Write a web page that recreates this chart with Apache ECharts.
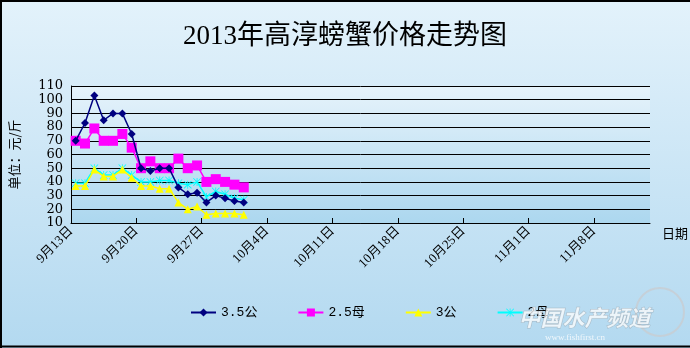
<!DOCTYPE html>
<html>
<head>
<meta charset="utf-8">
<script src="https://cdn.jsdelivr.net/npm/echarts@6/dist/echarts.min.js"></script>
<style>html,body{margin:0;padding:0;}#c{width:690px;height:348px;}</style>
</head>
<body>
<div id="c"></div>
<script>
// ---- data ----
const dates = ['9月13日','9月14日','9月15日','9月16日','9月17日','9月18日','9月19日','9月20日','9月21日','9月22日','9月23日','9月24日','9月25日','9月26日','9月27日','9月28日','9月29日','9月30日','10月1日'];
const seriesNames = ['3.5公','2.5母','3公','2母'];
const male35 = [70, 83, 103, 85, 90, 90, 75, 50, 48, 50, 50, 36, 31, 32, 25, 30, 28, 26, 25];
const female25 = [70, 68, 79, 70, 70, 75, 65, 50, 55, 50, 50, 57, 50, 52, 40, 42, 40, 38, 36];
const male3 = [37, 37, 49, 44, 44, 49, 43, 37, 37, 35, 35, 25, 20, 22, 16, 17, 17, 17, 16];
const female2 = [39, 39, 50, 45, 45, 50, 45, 40, 40, 41, 41, 39, 38, 40, 29, 33, 31, 28, 27];
const tickLabels = ['9月13日','9月20日','9月27日','10月4日','10月11日','10月18日','10月25日','11月1日','11月8日'];
const yTicks = [10,20,30,40,50,60,70,80,90,100,110];
const axisDays = 62; // 9/13 .. 11/14

const chart = echarts.init(document.getElementById('c'), null, {renderer:'canvas'});
const toPts = arr => arr.map((v,i)=>[i+0.5, v]);
const asterisk = 'path://M4.5,0 L5.5,0 L5.5,10 L4.5,10 Z M0.7,0 L10,9.3 L9.3,10 L0,0.7 Z M9.3,0 L10,0.7 L0.7,10 L0,9.3 Z';

const colors = ['#000080','#FF00FF','#FFFF00','#00FFFF'];
const symbols = ['diamond','rect','triangle',asterisk];
const sizes = [8,10,8,8];
const data = [male35, female25, male3, female2];

chart.setOption({
  animation:false,
  backgroundColor: new echarts.graphic.LinearGradient(0,0,0,1,[{offset:0,color:'#e3f2fb'},{offset:1,color:'#b3d9f0'}]),
  title:{
    text:'2013年高淳螃蟹价格走势图', left:'center', top:18,
    textStyle:{fontFamily:'Liberation Serif, Noto Sans CJK SC', fontSize:27, fontWeight:'normal', color:'#000'}
  },
  grid:{left:70, right:40, top:86, bottom:125, show:true, borderWidth:0,
    backgroundColor: new echarts.graphic.LinearGradient(0,0,0,1,[{offset:0,color:'#e6f3fb'},{offset:1,color:'#acd7ef'}])},
  legend:{
    bottom:24, left:185, itemGap:40, itemWidth:25, itemHeight:10,
    textStyle:{fontFamily:'Liberation Mono, Noto Sans CJK SC', fontSize:13, color:'#000'},
    data: seriesNames
  },
  xAxis:{
    type:'value', min:0, max:axisDays, interval:7,
    name:'日期', nameLocation:'end', nameGap:12,
    nameTextStyle:{fontFamily:'Noto Sans CJK SC', fontSize:13, color:'#000', verticalAlign:'top', padding:[4,0,0,0]},
    axisLine:{lineStyle:{color:'#000', width:1}},
    axisTick:{show:true, inside:true, length:5, lineStyle:{color:'#000'}},
    splitLine:{show:false},
    axisLabel:{rotate:45, margin:6, fontSize:13, color:'#000', fontFamily:'Liberation Serif, Noto Sans CJK SC',
      showMaxLabel:false, showMinLabel:true,
      formatter:v=>{const k=Math.round(v/7); return (v%7===0 && tickLabels[k])?tickLabels[k]:'';}}
  },
  yAxis:{
    type:'value', min:yTicks[0], max:yTicks[yTicks.length-1], interval:10,
    name:'单位：元/斤', nameLocation:'middle', nameGap:50,
    nameTextStyle:{fontFamily:'Noto Sans CJK SC', fontSize:13, color:'#000'},
    axisLine:{show:true, lineStyle:{color:'#000'}},
    axisTick:{show:false},
    splitLine:{lineStyle:{color:'#000', width:1}},
    axisLabel:{fontSize:13, color:'#000', fontFamily:'DejaVu Serif', margin:8, showMinLabel:true, showMaxLabel:true}
  },
  series: seriesNames.map((n,i)=>({
    name:n, type:'line', data:toPts(data[i]),
    symbol:symbols[i], symbolSize:sizes[i],
    itemStyle:{color:colors[i]},
    lineStyle:{color:colors[i], width:1.5},
    z: i===3?2:(i===2?3:(i===1?4:5))
  })),
  graphic:[
    {type:'line', shape:{x1:1,y1:0,x2:1,y2:348}, style:{stroke:'#000', lineWidth:2}, z:100},
    {type:'line', shape:{x1:0,y1:1,x2:690,y2:1}, style:{stroke:'#000', lineWidth:2}, z:100},
    {type:'line', shape:{x1:0,y1:346.5,x2:690,y2:346.5}, style:{stroke:'#000', lineWidth:2}, z:100},
    {type:'text', left:518, top:306, style:{text:'中国水产频道', font:'italic bold 22px "Noto Sans CJK SC"', fill:'rgba(255,255,255,0.75)', stroke:'rgba(150,160,170,0.6)', lineWidth:1}, z:50},
    {type:'text', left:545, top:333, style:{text:'www.fishfirst.cn', font:'9px "Liberation Serif"', fill:'rgba(255,255,255,0.8)'}, z:50},
    {type:'circle', shape:{cx:660, cy:312, r:24}, style:{fill:'none', stroke:'rgba(200,205,210,0.8)', lineWidth:2}, z:49}
  ]
});
</script>
</body>
</html>
